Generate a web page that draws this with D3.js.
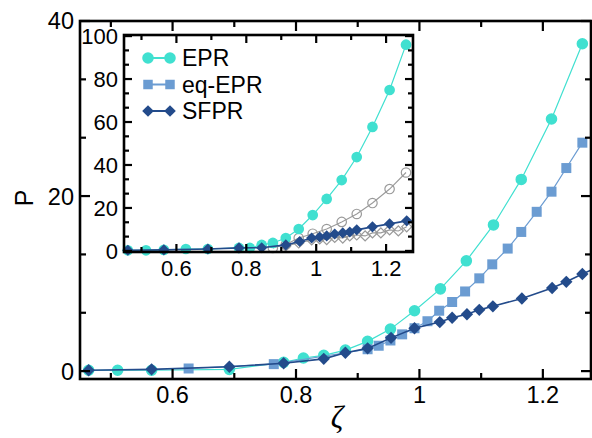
<!DOCTYPE html>
<html>
<head>
<meta charset="utf-8">
<script src="https://cdn.jsdelivr.net/npm/d3@7"></script>
<style>
  body { margin: 0; background: #fff; }
  svg { display: block; font-family: "Liberation Sans", Arial, sans-serif; }
</style>
</head>
<body>
<svg id="chart" width="592" height="438"></svg>
<script>
// main panel: [zeta, P]
const mainEPR = [[0.464, 0.1], [0.511, 0.1], [0.566, 0.1], [0.692, 0.2], [0.780, 1.0], [0.812, 1.5], [0.845, 1.8],
  [0.880, 2.4], [0.916, 3.4], [0.953, 4.8], [0.992, 6.9], [1.034, 9.4], [1.076, 12.6], [1.120, 16.7],
  [1.165, 21.9], [1.214, 28.8], [1.264, 37.4]]
const mainEqEPR = [[0.626, 0.3], [0.764, 0.8], [0.916, 2.5], [0.934, 2.9], [0.953, 3.5], [0.972, 4.2],
  [0.992, 4.9], [1.013, 5.7], [1.032, 6.9], [1.053, 7.9], [1.074, 9.1], [1.097, 10.6], [1.118, 12.2],
  [1.143, 14.0], [1.165, 15.9], [1.190, 18.2], [1.214, 20.5], [1.238, 23.2], [1.264, 26.1]]
const mainSFPR = [[0.464, 0.1], [0.566, 0.2], [0.692, 0.5], [0.780, 0.9], [0.845, 1.4], [0.880, 2.1], [0.916, 2.6],
  [0.954, 3.8], [0.992, 4.9], [1.033, 5.6], [1.053, 6.1], [1.077, 6.5], [1.097, 7.0], [1.119, 7.4],
  [1.166, 8.3], [1.215, 9.5], [1.238, 10.2], [1.264, 11.1], [1.290, 11.9]]

// inset panel
const insetEPR = [[0.461, 0.3], [0.513, 0.3], [0.564, 0.5], [0.627, 0.9], [0.690, 0.9], [0.779, 1.4], [0.810, 1.4],
  [0.844, 2.8], [0.876, 3.7], [0.913, 6.0], [0.950, 10.2], [0.990, 16.7], [1.030, 24.2], [1.073, 33.0],
  [1.116, 43.7], [1.161, 57.7], [1.210, 74.9], [1.257, 96.0]]
const insetSFPR = [[0.461, 0.3], [0.564, 0.5], [0.690, 0.9], [0.779, 1.4], [0.844, 1.5], [0.913, 2.8], [0.953, 4.4],
  [0.987, 6.0], [1.010, 6.5], [1.030, 7.0], [1.053, 7.9], [1.076, 8.4], [1.096, 8.8], [1.116, 9.8],
  [1.161, 11.2], [1.210, 12.6], [1.259, 14.0]]
const insetGrayCircles = [[0.876, 1.4], [0.913, 3.0], [0.950, 6.0], [0.990, 8.0], [1.030, 10.2], [1.073, 13.5],
  [1.116, 17.2], [1.161, 22.3], [1.210, 28.8], [1.257, 36.5]]
const insetGrayDiamonds = [[0.913, 2.3], [0.950, 3.7], [0.987, 5.1], [1.010, 5.6], [1.030, 5.3], [1.053, 6.3],
  [1.076, 6.0], [1.096, 7.0], [1.116, 7.4], [1.140, 7.0], [1.161, 8.4], [1.185, 8.4], [1.210, 9.8],
  [1.235, 9.3], [1.259, 11.2]]

const legendNames = ['EPR', 'eq-EPR', 'SFPR']
const xMajor = [0.6, 0.8, 1.0, 1.2]
const xMinor = [0.5, 0.7, 0.9, 1.1]
const mainYMajor = [0, 20, 40]
const insetYMajor = [0, 20, 40, 60, 80, 100]

const C_EPR = '#40e0d0', C_EQ = '#6b9cd2', C_SF = '#234b8b', C_GRAY = '#9a9a9a'
const svg = d3.select('#chart')

// ---------- main panel ----------
const x = d3.scaleLinear().domain([0.45, 1.278]).range([80, 591])
const y = d3.scaleLinear().domain([-0.9, 40]).range([379, 21])

svg.append('defs').append('clipPath').attr('id', 'clipMain')
  .append('rect').attr('x', 80).attr('y', 21).attr('width', 511).attr('height', 358)

function minorOf(majors, n) {
  const out = []
  for (let i = 0; i < majors.length - 1; i++) {
    const step = (majors[i + 1] - majors[i]) / n
    for (let k = 1; k < n; k++) out.push(majors[i] + k * step)
  }
  return out
}

function frame(g, xs, ys, majX, minX, majY, minY, lenMaj, lenMin, fontSize, xFmt, yFmt) {
  const [x0, x1] = xs.range(), [y0, y1] = ys.range()
  const t = g.append('g').attr('stroke', '#000').attr('stroke-width', 2.2)
  const vt = (v, len) => {
    t.append('line').attr('x1', xs(v)).attr('x2', xs(v)).attr('y1', y0).attr('y2', y0 - len)
    t.append('line').attr('x1', xs(v)).attr('x2', xs(v)).attr('y1', y1).attr('y2', y1 + len)
  }
  const ht = (v, len) => {
    t.append('line').attr('x1', x0).attr('x2', x0 + len).attr('y1', ys(v)).attr('y2', ys(v))
    t.append('line').attr('x1', x1).attr('x2', x1 - len).attr('y1', ys(v)).attr('y2', ys(v))
  }
  majX.forEach(v => vt(v, lenMaj))
  minX.forEach(v => vt(v, lenMin))
  majY.forEach(v => ht(v, lenMaj))
  minY.forEach(v => ht(v, lenMin))
  g.append('rect').attr('x', x0).attr('y', y1).attr('width', x1 - x0).attr('height', y0 - y1)
    .attr('fill', 'none').attr('stroke', '#000').attr('stroke-width', 2.6)
  g.append('g').selectAll('text').data(majX).join('text')
    .attr('x', d => xs(d)).attr('y', y0 + 24)
    .attr('text-anchor', 'middle').style('font-size', fontSize + 'px').text(xFmt)
  g.append('g').selectAll('text').data(majY).join('text')
    .attr('x', x0 - 6).attr('y', d => ys(d)).attr('dy', '0.36em')
    .attr('text-anchor', 'end').style('font-size', fontSize + 'px').text(yFmt)
}

const fmt = d => d === 1 ? '1' : d3.format('.1f')(d)

function series(g, xs, ys, data, color, lw, shape, size, open) {
  g.append('path').datum(data)
    .attr('d', d3.line().x(d => xs(d[0])).y(d => ys(d[1])))
    .attr('fill', 'none').attr('stroke', color).attr('stroke-width', lw)
  const sym = d3.symbol().type(shape === 'circle' ? d3.symbolCircle : d3.symbolSquare).size(size)
  g.append('g').selectAll('path').data(data).join('path')
    .attr('d', sym)
    .attr('transform', d => `translate(${xs(d[0])},${ys(d[1])})` + (shape === 'diamond' ? ' rotate(45)' : ''))
    .attr('fill', open ? 'none' : color)
    .attr('stroke', open ? color : 'none')
    .attr('stroke-width', 1.2)
}

const mainG = svg.append('g')
const plotMain = mainG.append('g').attr('clip-path', 'url(#clipMain)')
series(plotMain, x, y, mainEPR, C_EPR, 1.2, 'circle', 105)
series(plotMain, x, y, mainEqEPR, C_EQ, 1.2, 'square', 100)
series(plotMain, x, y, mainSFPR, C_SF, 1.6, 'diamond', 76)
frame(mainG, x, y, xMajor, xMinor, mainYMajor, minorOf(mainYMajor, 3), 10, 6, 23.5, fmt, d => d)

svg.append('text').attr('transform', 'translate(33,198) rotate(-90)')
  .attr('text-anchor', 'middle').style('font-size', '25px').text('P')
svg.append('text').attr('x', 337).attr('y', 428)
  .attr('text-anchor', 'middle').style('font-family', '"Liberation Serif", serif')
  .style('font-style', 'italic').style('font-size', '31px').text('ζ')

// ---------- inset ----------
const xi = d3.scaleLinear().domain([0.45, 1.277]).range([124, 413])
const yi = d3.scaleLinear().domain([-0.5, 100.5]).range([252, 35])
const inset = svg.append('g')
inset.append('rect').attr('x', 124).attr('y', 35).attr('width', 289).attr('height', 217).attr('fill', '#fff')
series(inset, xi, yi, insetGrayDiamonds, C_GRAY, 1.1, 'diamond', 50, true)
series(inset, xi, yi, insetGrayCircles, C_GRAY, 1.1, 'circle', 70, true)
series(inset, xi, yi, insetEPR, C_EPR, 1.2, 'circle', 90)
series(inset, xi, yi, insetSFPR, C_SF, 1.6, 'diamond', 62)
frame(inset, xi, yi, xMajor, xMinor, insetYMajor, minorOf(insetYMajor, 3), 8, 5, 22, fmt, d => d)

// legend
const legColors = [C_EPR, C_EQ, C_SF]
const legShapes = ['circle', 'square', 'diamond']
const legY = d3.scalePoint().domain(legendNames).range([58, 111])
legendNames.forEach((name, i) => {
  const ly = legY(name)
  const lg = inset.append('g')
  lg.append('line').attr('x1', 148).attr('x2', 170).attr('y1', ly).attr('y2', ly)
    .attr('stroke', legColors[i]).attr('stroke-width', 2)
  const sym = d3.symbol().type(legShapes[i] === 'circle' ? d3.symbolCircle : d3.symbolSquare)
    .size(legShapes[i] === 'circle' ? 105 : (legShapes[i] === 'square' ? 90 : 68))
  ;[148, 170].forEach(px => {
    lg.append('path').attr('d', sym)
      .attr('transform', `translate(${px},${ly})` + (legShapes[i] === 'diamond' ? ' rotate(45)' : ''))
      .attr('fill', legColors[i])
  })
  lg.append('text').attr('x', 182).attr('y', ly).attr('dy', '0.36em')
    .style('font-size', '23px').text(name)
})
</script>
</body>
</html>
